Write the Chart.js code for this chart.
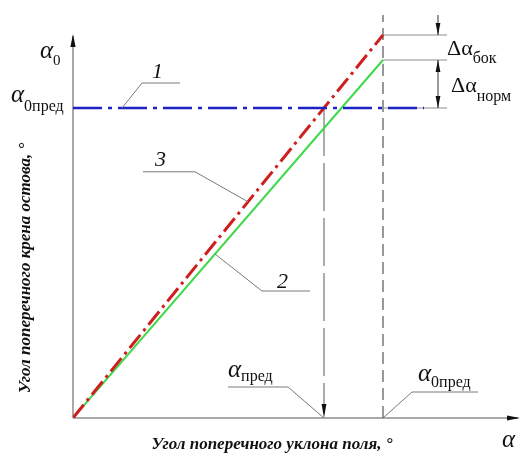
<!DOCTYPE html>
<html>
<head>
<meta charset="utf-8">
<script src="https://cdn.jsdelivr.net/npm/chart.js@4.4.1/dist/chart.umd.min.js"></script>
<style>
    html, body { margin: 0; padding: 0; background: #fff; }
    #wrap { width: 525px; height: 455px; position: relative; }
</style>
</head>
<body>
<div id="wrap"><canvas id="scheme"></canvas></div>
<script>
/* Схема: угол крена остова в зависимости от уклона поля (условные единицы) */

const slopeX = [0, 31];        // α: от 0 до α0пред
const line3Y = [0, 38.3];      // 3 — с учётом бокового смещения
const line2Y = [0, 35.8];      // 2 — нормальная
const line1X = [0, 35.1];
const line1Y = [31, 31];       // 1 — уровень α0пред
const alphaPred = 25.1;        // α_пред
const alpha0Pred = 31;         // α_0пред
const axisX = [0, 44.7];
const axisY = [0, 40.8];

const SERIF = '"Liberation Serif", "DejaVu Serif", serif';

const pts = (xs, ys) => xs.map((x, i) => ({ x, y: ys[i] }));
const yOn = (ys, x) => ys[0] + (ys[1] - ys[0]) * (x - slopeX[0]) / (slopeX[1] - slopeX[0]);

function seg(ctx, x1, y1, x2, y2, color, w, dash) {
    ctx.save();
    ctx.strokeStyle = color; ctx.lineWidth = w; ctx.setLineDash(dash || []);
    ctx.beginPath(); ctx.moveTo(x1, y1); ctx.lineTo(x2, y2); ctx.stroke();
    ctx.restore();
}
function poly(ctx, p, color, w) {
    ctx.save();
    ctx.strokeStyle = color; ctx.lineWidth = w;
    ctx.beginPath(); ctx.moveTo(p[0][0], p[0][1]);
    p.slice(1).forEach(q => ctx.lineTo(q[0], q[1]));
    ctx.stroke(); ctx.restore();
}
// наконечник: вершина в (x,y), направление (dx,dy)
function head(ctx, x, y, dx, dy, len, hw, color) {
    ctx.save(); ctx.fillStyle = color || '#111';
    ctx.beginPath(); ctx.moveTo(x, y);
    ctx.lineTo(x - dx * len - dy * hw, y - dy * len + dx * hw);
    ctx.lineTo(x - dx * len + dy * hw, y - dy * len - dx * hw);
    ctx.closePath(); ctx.fill(); ctx.restore();
}
function label(ctx, x, base, main, mainFont, sub, subFont, subBase) {
    ctx.save(); ctx.fillStyle = '#111'; ctx.textBaseline = 'alphabetic'; ctx.textAlign = 'left';
    ctx.font = mainFont; ctx.fillText(main, x, base);
    const w = ctx.measureText(main).width;
    if (sub) { ctx.font = subFont; ctx.fillText(sub, x + w, subBase); }
    ctx.restore();
}

const schemePlugin = {
    id: 'scheme',
    beforeDatasetsDraw(chart) {
        const ctx = chart.ctx, sx = chart.scales.x, sy = chart.scales.y;
        const X = v => sx.getPixelForValue(v), Y = v => sy.getPixelForValue(v);
        const grey = '#8c8c8c';
        // оси
        seg(ctx, X(0), Y(0), X(axisX[1]) - 2, Y(0), grey, 1.5);
        seg(ctx, X(0), Y(0), X(0), Y(38.4) + 2, grey, 1.5);
        head(ctx, X(axisX[1]), Y(0), 1, 0, 13, 2.6);
        head(ctx, X(0), Y(38.4), 0, -1, 13, 2.6);
        // вертикали α0пред и αпред
        seg(ctx, X(alpha0Pred), Y(0), X(alpha0Pred), Y(40.3), '#333', 1, [12, 6]);
        seg(ctx, X(alphaPred), Y(line1Y[0]), X(alphaPred), Y(0) - 6, '#777', 1.2, [48, 7]);
        head(ctx, X(alphaPred), Y(0), 0, 1, 14, 2.4);
        // выносные линии справа
        const xe = X(37.4);
        seg(ctx, X(alpha0Pred), Y(line3Y[1]), xe, Y(line3Y[1]), grey, 1);
        seg(ctx, X(alpha0Pred), Y(line2Y[1]), xe, Y(line2Y[1]), grey, 1);
        seg(ctx, X(alpha0Pred), Y(line1Y[0]), xe, Y(line1Y[0]), grey, 1);
        // размерные линии
        const xd = X(36.5);
        seg(ctx, xd, Y(40.3), xd, Y(line3Y[1]), '#333', 1);
        head(ctx, xd, Y(line3Y[1]), 0, 1, 12, 2.4);
        seg(ctx, xd, Y(line2Y[1]), xd, Y(line1Y[0]), '#333', 1);
        head(ctx, xd, Y(line2Y[1]), 0, -1, 12, 2.4);
        head(ctx, xd, Y(line1Y[0]), 0, 1, 12, 2.4);
    },
    afterDatasetsDraw(chart) {
        const ctx = chart.ctx, sx = chart.scales.x, sy = chart.scales.y;
        const X = v => sx.getPixelForValue(v), Y = v => sy.getPixelForValue(v);
        const lead = '#7a7a7a';
        // выноски 1, 2, 3
        const p1 = [X(4.9), Y(line1Y[0])];
        poly(ctx, [p1, [p1[0] + 20, p1[1] - 25], [p1[0] + 58, p1[1] - 25]], lead, 1);
        const p3 = [X(17.5), Y(yOn(line3Y, 17.5))];
        poly(ctx, [p3, [p3[0] - 53, p3[1] - 30], [p3[0] - 105, p3[1] - 30]], lead, 1);
        const p2 = [X(14.2), Y(yOn(line2Y, 14.2))];
        poly(ctx, [p2, [p2[0] + 47, p2[1] + 37], [p2[0] + 95, p2[1] + 37]], lead, 1);
        // выноски на оси α
        poly(ctx, [[X(alphaPred), Y(0)], [X(alphaPred) - 36, Y(0) - 31], [X(alphaPred) - 96, Y(0) - 31]], lead, 1);
        poly(ctx, [[X(alpha0Pred), Y(0)], [X(alpha0Pred) + 29, Y(0) - 26], [X(alpha0Pred) + 95, Y(0) - 26]], lead, 1);

        const aFont = 'italic 25px ' + SERIF, sFont = '16px ' + SERIF, nFont = 'italic 22px ' + SERIF;
        label(ctx, 40, 58, 'α', aFont, '0', '15px ' + SERIF, 65);
        label(ctx, 11, 102, 'α', aFont, '0пред', sFont, 111);
        label(ctx, 228, 377, 'α', aFont, 'пред', sFont, 381);
        label(ctx, 418, 381, 'α', aFont, '0пред', sFont, 387);
        label(ctx, 502, 447, 'α', aFont);
        label(ctx, 447, 55, 'Δα', '22px ' + SERIF, 'бок', sFont, 63);
        label(ctx, 451, 92, 'Δα', '22px ' + SERIF, 'норм', sFont, 101);
        label(ctx, 152, 78, '1', nFont);
        label(ctx, 155, 166, '3', nFont);
        label(ctx, 277, 288, '2', nFont);

        ctx.save();
        ctx.fillStyle = '#111'; ctx.font = 'bold italic 17px ' + SERIF; ctx.textAlign = 'center';
        ctx.fillText('Угол поперечного уклона поля, °', 272, 449);
        ctx.translate(30, 268); ctx.rotate(-Math.PI / 2);
        ctx.fillText('Угол поперечного крена остова, °', 0, 0);
        ctx.restore();
    }
};

new Chart(document.getElementById('scheme'), {
    type: 'scatter',
    data: {
        datasets: [
            { label: '1', data: pts(line1X, line1Y), showLine: true, borderColor: '#1c22c4', borderWidth: 2.5, borderDash: [29, 6, 4, 6], pointRadius: 0 },
            { label: '3', data: pts(slopeX, line3Y), showLine: true, borderColor: '#d01e1e', borderWidth: 3, borderDash: [17, 5, 3, 5], pointRadius: 0 },
            { label: '2', data: pts(slopeX, line2Y), showLine: true, borderColor: '#3ed84a', borderWidth: 2, pointRadius: 0 }
        ]
    },
    options: {
        responsive: true, maintainAspectRatio: false, animation: false,
        layout: { padding: { left: 73, right: 5, top: 10, bottom: 37 } },
        plugins: { legend: { display: false }, tooltip: { enabled: false } },
        scales: {
            x: { type: 'linear', min: axisX[0], max: axisX[1], display: false },
            y: { type: 'linear', min: axisY[0], max: axisY[1], display: false }
        }
    },
    plugins: [schemePlugin]
});
</script>
</body>
</html>
